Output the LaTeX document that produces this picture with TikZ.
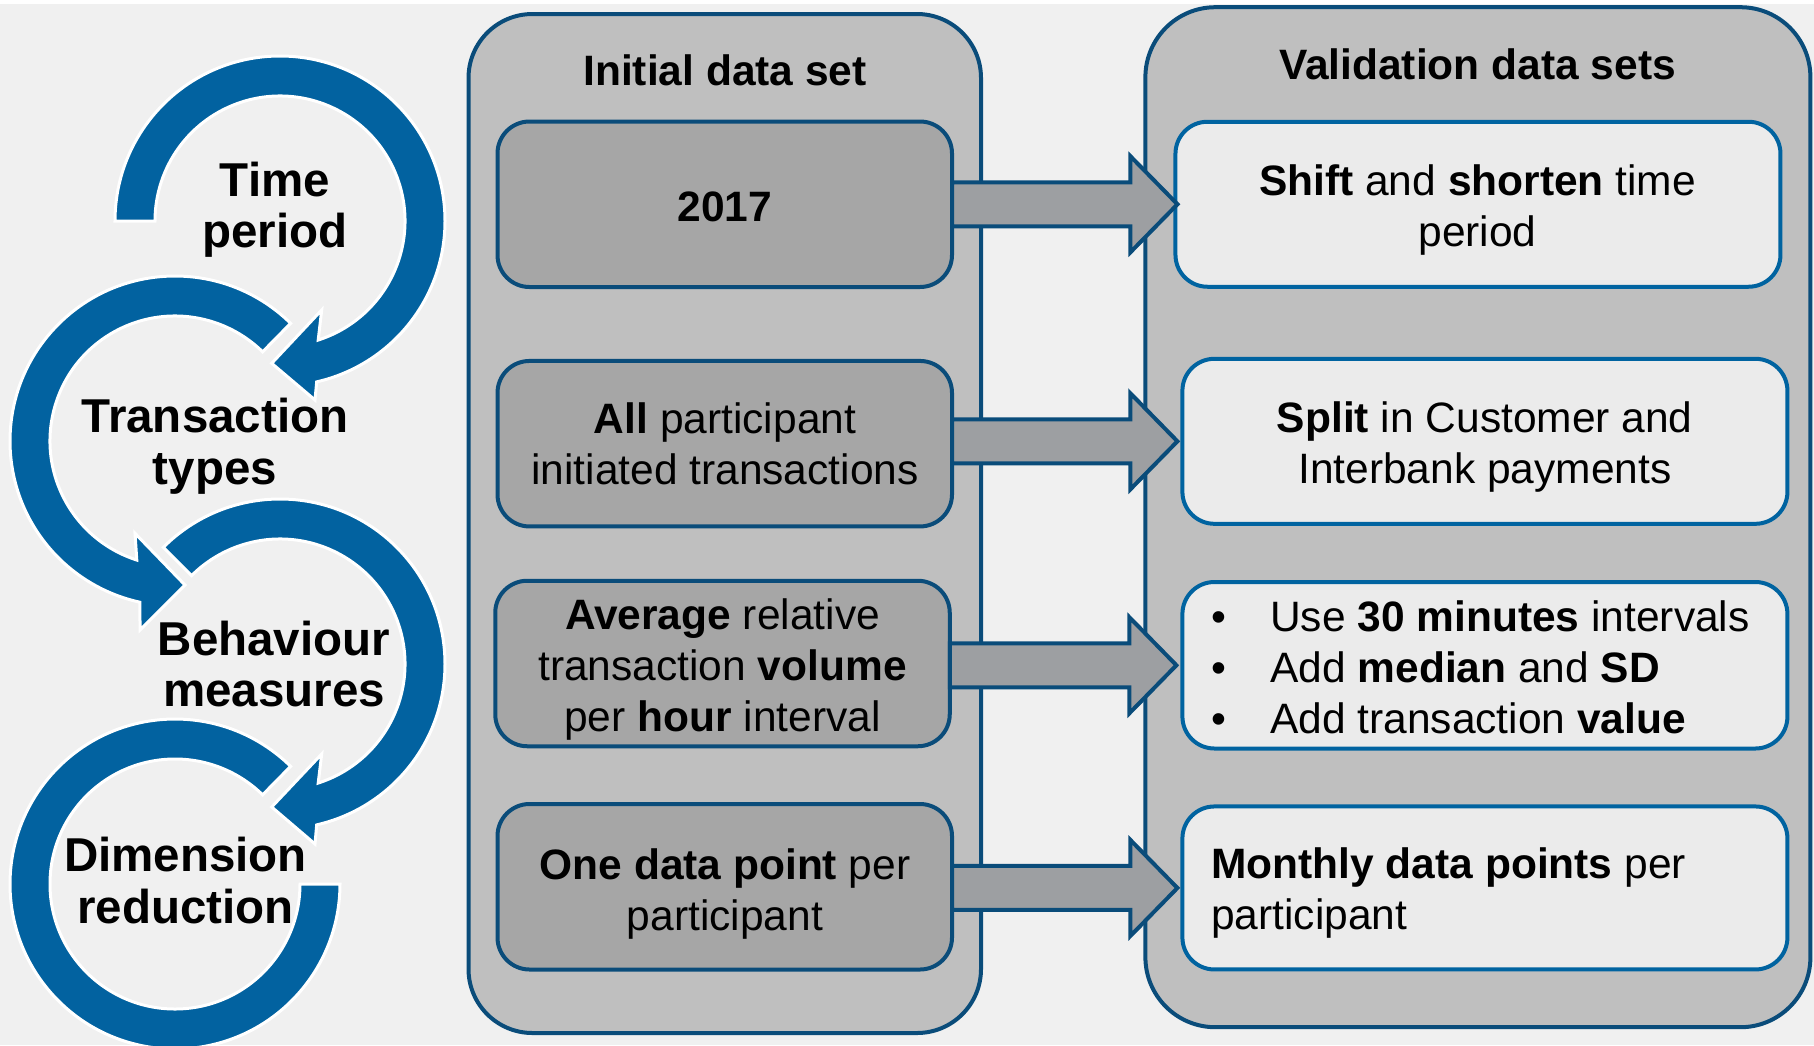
\documentclass[tikz,border=0pt]{standalone}
\usepackage{fontspec}
\setmainfont{Liberation Sans}
\usetikzlibrary{calc}

\definecolor{bgc}{RGB}{240,240,240}
\definecolor{panelfill}{RGB}{191,191,191}
\definecolor{srcfill}{RGB}{166,166,166}
\definecolor{dstfill}{RGB}{235,235,235}
\definecolor{arrowfill}{RGB}{157,159,162}
\definecolor{navy}{RGB}{10,76,122}
\definecolor{brightblue}{RGB}{0,99,160}
\definecolor{ringblue}{RGB}{2,98,160}

% strut fixing line height and depth, so lines sit at a fixed pitch
\newcommand\ls{\rule[-0.22em]{0pt}{0.97em}}

% block arrow from a source box to a target box; #3 shifts the tip in x
\newcommand\blockarr[3]{%
  \path ($(#2.west)+(#3,0)$) coordinate (arrtip) (#1.east |- arrtip) coordinate (arrtail);
  \draw[blockarrow] ($(arrtail)+(-2,22)$) -- ($(arrtip)+(-47,22)$) -- ($(arrtip)+(-47,48)$)
    -- (arrtip) -- ($(arrtip)+(-47,-48)$) -- ($(arrtip)+(-47,-22)$)
    -- ($(arrtail)+(-2,-22)$) -- cycle;
}

\begin{document}
\begin{tikzpicture}[x=1pt,y=1pt,
  panel/.style={draw=navy, line width=4pt, fill=panelfill, rounded corners=64pt, inner sep=0pt},
  srcbox/.style={draw=navy, line width=4pt, fill=srcfill, rounded corners=32pt, inner sep=0pt,
    minimum width=454.5pt, minimum height=165.5pt},
  dstbox/.style={draw=brightblue, line width=4pt, fill=dstfill, rounded corners=32pt, inner sep=0pt,
    minimum width=605pt, minimum height=165pt},
  blockarrow/.style={draw=navy, line width=4pt, fill=arrowfill, line join=miter},
  ring/.style={fill=ringblue, draw=white, line width=3pt, line join=miter},
  txt/.style={font=\fontsize{42.5}{51}\selectfont, inner sep=0pt, align=center},
  txtl/.style={font=\fontsize{42.5}{51}\selectfont, inner sep=0pt, align=left},
  lbl/.style={font=\fontsize{47.5}{51.5}\selectfont\bfseries, inner sep=0pt, align=center}
]
\useasboundingbox (0,0) rectangle (1814,-1045);
\fill[bgc] (0,0) rectangle (1814,-1045);
\fill[white] (0,0) rectangle (1814,-4);

% ---- circular arrows of the process cycle ----
\coordinate (c1) at (280,-221);
\coordinate (c2) at (175,-441);
\coordinate (c3) at (280,-664);
\coordinate (c4) at (175,-884);

\path[ring] ($(c4)+(45.5:165)$) arc[start angle=45.5, end angle=360, radius=165]
  -- ($(c4)+(0:125)$) arc[start angle=360, end angle=45.5, radius=125] -- cycle;

\path[ring] ($(c3)+(135:165)$) arc[start angle=135, end angle=-77.15, radius=165]
  -- ($(c3)+(35,-180)$) -- ($(c3)+(-8.3,-143)$) -- ($(c3)+(41.7,-90)$)
  -- ($(c3)+(-72.2:125)$) arc[start angle=-72.2, end angle=135, radius=125] -- cycle;

\path[ring] ($(c2)+(45.5:165)$) arc[start angle=45.5, end angle=257.75, radius=165]
  -- ($(c2)+(-35,-189)$) -- ($(c2)+(10,-144)$) -- ($(c2)+(-40,-92.3)$)
  -- ($(c2)+(252.2:125)$) arc[start angle=252.2, end angle=45.5, radius=125] -- cycle;

\path[ring] ($(c1)+(180:165)$) arc[start angle=180, end angle=-77.15, radius=165]
  -- ($(c1)+(35,-179)$) -- ($(c1)+(-8.3,-142.3)$) -- ($(c1)+(41.7,-89)$)
  -- ($(c1)+(-72.2:125)$) arc[start angle=-72.2, end angle=180, radius=125] -- cycle;

\node[lbl, anchor=north] (step-time) at (275,-160.4) {\ls Time\\\ls period};
\node[lbl, anchor=north] (step-types) at (215,-397.1) {\ls Transaction\\\ls types};
\node[lbl, anchor=north] (step-behav) at (274,-619.4) {\ls Behaviour\\\ls measures};
\node[lbl, anchor=north] (step-dimred) at (185.5,-836.1) {\ls Dimension\\\ls reduction};

% ---- panels ----
\node[panel, minimum width=512.5pt, minimum height=1019pt] (ipanel) at (724.75,-523.5) {};
\node[panel, rounded corners=70pt, minimum width=665pt, minimum height=1020pt] (vpanel) at (1477.9,-517.2) {};

% ---- initial data set boxes ----
\node[srcbox] (l1) at (724.75,-204.25) {};
\node[srcbox] (l2) at (724.75,-443.7) {};
\node[srcbox] (l3) at (722.5,-663.5) {};
\node[srcbox] (l4) at (724.75,-886.75) {};

% ---- validation data set boxes ----
\node[dstbox] (r1) at (1477.95,-204.25) {};
\node[dstbox] (r2) at (1484.9,-441.3) {};
\node[dstbox, minimum height=166.5pt] (r3) at (1484.9,-665.25) {};
\node[dstbox, minimum height=163pt] (r4) at (1484.9,-887.95) {};

% ---- arrows between the two sets ----
\blockarr{l1}{r1}{4}
\blockarr{l2}{r2}{-3}
\blockarr{l3}{r3}{-4}
\blockarr{l4}{r4}{-3}

% ---- texts ----
\node[txt, anchor=north] (ihead) at (725,-53.6) {\ls\textbf{Initial data set}};
\node[txt, anchor=north] (vhead) at (1477.5,-47.6) {\ls\textbf{Validation data sets}};

\node[txt, anchor=north] (l1t) at (725,-189.1) {\ls\textbf{2017}};
\node[txt, anchor=north] (l2t) at (725,-401.9) {\ls\textbf{All} participant\\\ls initiated transactions};
\node[txt, anchor=north] (l3t) at (722.5,-597.5) {\ls\textbf{Average} relative\\\ls transaction \textbf{volume}\\\ls per \textbf{hour} interval};
\node[txt, anchor=north] (l4t) at (725,-847.1) {\ls\textbf{One data point} per\\\ls participant};

\node[txt, anchor=north] (r1t) at (1477.5,-163.6) {\ls\textbf{Shift} and \textbf{shorten} time\\\ls period};
\node[txt, anchor=north] (r2t) at (1484.8,-400.8) {\ls\textbf{Split} in Customer and\\\ls Interbank payments};
\node[txtl, anchor=north west] (r3t) at (1211,-599.8) {%
  \ls\makebox[59pt][l]{•}Use \textbf{30 minutes} intervals\\
  \ls\makebox[59pt][l]{•}Add \textbf{median} and \textbf{SD}\\
  \ls\makebox[59pt][l]{•}Add transaction \textbf{value}};
\node[txtl, anchor=north west] (r4t) at (1211,-846.1) {\ls\textbf{Monthly data points} per\\\ls participant};
\end{tikzpicture}
\end{document}
